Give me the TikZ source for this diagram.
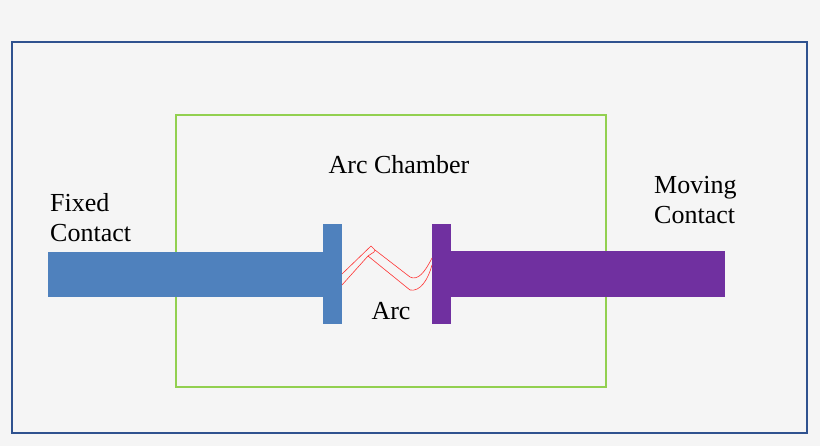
\documentclass[tikz,border=0pt]{standalone}
\usepackage{fontspec}
\setmainfont{Liberation Serif}
\definecolor{outerb}{RGB}{47,82,143}
\definecolor{greenb}{RGB}{146,208,80}
\definecolor{fixc}{RGB}{79,129,189}
\definecolor{movc}{RGB}{112,48,160}
\begin{document}
\begin{tikzpicture}[x=1pt,y=-1pt,
  lbl/.style={font=\fontsize{26}{30}\selectfont, inner sep=0pt},
  arcl/.style={draw=red!80!white, line width=0.6pt}]
\fill[black!4] (0,0) rectangle (820,446);
\useasboundingbox (0,0) rectangle (820,446);
\draw[outerb, line width=2pt] (12,42) rectangle (807,433);
\draw[greenb, line width=2pt] (176,115) rectangle (606,387);
\fill[fixc] (48,252) rectangle (330,297);
\fill[fixc] (323,224) rectangle (342,324);
\fill[movc] (445,251) rectangle (725,297);
\fill[movc] (432,224) rectangle (451,324);
\coordinate (a1) at (342,274);
\coordinate (a2) at (342,285);
\draw[arcl] (a1) -- (371,246) -- (375,250) -- (410,277) .. controls (418,281) and (425,272) .. (432,258);
\draw[arcl] (a2) -- (368,256) -- (374,252) -- (375,250);
\draw[arcl] (368,256) -- (410,290) .. controls (420,292) and (428,280) .. (432,265);
\node[lbl] (t1) at (399,165) {Arc Chamber};
\node[lbl, align=left, anchor=west] (t2) at (50,218) {Fixed\\Contact};
\node[lbl, align=left, anchor=west] (t3) at (654,200) {Moving\\Contact};
\node[lbl] (t4) at (391,311) {Arc};
\end{tikzpicture}
\end{document}
